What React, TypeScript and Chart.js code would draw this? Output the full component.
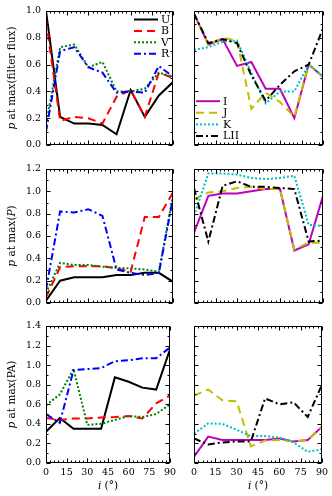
import React, { useEffect, useRef } from 'react';
import { Chart, registerables } from 'chart.js';
Chart.register(...registerables);

// ---------------- data ----------------
const inclination = [0, 10, 20, 30, 40, 50, 60, 70, 80, 90];
const xTickStep = 15;

// Row 1: p at max(filter flux)
const fluxU = [1.0, 0.21, 0.16, 0.16, 0.15, 0.08, 0.41, 0.21, 0.37, 0.47];
const fluxB = [0.93, 0.18, 0.21, 0.2, 0.16, 0.36, 0.41, 0.21, 0.54, 0.5];
const fluxV = [0.15, 0.73, 0.75, 0.58, 0.62, 0.4, 0.4, 0.42, 0.54, 0.51];
const fluxR = [0.1, 0.7, 0.73, 0.58, 0.54, 0.39, 0.4, 0.39, 0.59, 0.51];
const fluxI = [0.98, 0.75, 0.79, 0.59, 0.62, 0.42, 0.42, 0.2, 0.6, 0.51];
const fluxJ = [0.98, 0.75, 0.8, 0.78, 0.27, 0.39, 0.32, 0.21, 0.6, 0.51];
const fluxK = [0.71, 0.73, 0.77, 0.78, 0.54, 0.31, 0.4, 0.4, 0.6, 0.51];
const fluxLII = [0.98, 0.76, 0.79, 0.76, 0.52, 0.33, 0.45, 0.55, 0.6, 0.87];

// Row 2: p at max(P)
const polU = [0.02, 0.2, 0.23, 0.23, 0.23, 0.25, 0.25, 0.27, 0.27, 0.19];
const polB = [0.05, 0.32, 0.33, 0.33, 0.33, 0.31, 0.28, 0.77, 0.77, 0.99];
const polV = [0.09, 0.36, 0.34, 0.34, 0.325, 0.315, 0.31, 0.3, 0.28, 0.96];
const polR = [0.12, 0.82, 0.81, 0.84, 0.78, 0.3, 0.27, 0.25, 0.27, 0.94];
const polI = [0.63, 0.96, 0.98, 0.98, 1.0, 1.02, 1.02, 0.47, 0.525, 0.96];
const polJ = [0.93, 0.99, 1.0, 1.03, 1.04, 1.02, 1.02, 0.48, 0.54, 0.54];
const polK = [0.78, 1.16, 1.16, 1.15, 1.12, 1.11, 1.12, 1.14, 0.7, 0.69];
const polLII = [1.03, 0.55, 1.05, 1.09, 1.04, 1.04, 1.03, 1.02, 0.55, 0.56];

// Row 3: p at max(PA)
const paU = [0.32, 0.46, 0.35, 0.35, 0.35, 0.875, 0.83, 0.77, 0.75, 1.16];
const paB = [0.46, 0.44, 0.455, 0.455, 0.465, 0.47, 0.48, 0.455, 0.61, 0.69];
const paV = [0.59, 0.7, 0.96, 0.39, 0.4, 0.44, 0.48, 0.47, 0.5, 0.6];
const paR = [0.5, 0.41, 0.95, 0.96, 0.97, 1.04, 1.05, 1.07, 1.07, 1.18];
const paI = [0.065, 0.27, 0.235, 0.235, 0.235, 0.235, 0.25, 0.22, 0.235, 0.37];
const paJ = [0.69, 0.75, 0.64, 0.63, 0.17, 0.23, 0.235, 0.22, 0.235, 0.37];
const paK = [0.3, 0.405, 0.4, 0.34, 0.275, 0.275, 0.26, 0.21, 0.115, 0.14];
const paLII = [0.25, 0.19, 0.21, 0.22, 0.22, 0.66, 0.6, 0.62, 0.47, 0.8];

// ---------------- styles ----------------
const FONT = '"DejaVu Serif", serif';
const TICK_SIZE = 9.5;
const LABEL_SIZE = 9.5;
const LEGEND_SIZE = 11;

const DASHED = [8, 5];
const DOTTED = [2, 2];
const DASHDOT = [7, 3, 2, 3];

const bandStyle: Record<string, { color: string; dash: number[] }> = {
  U: { color: '#000000', dash: [] },
  B: { color: '#ff0000', dash: DASHED },
  V: { color: '#008000', dash: DOTTED },
  R: { color: '#0000ff', dash: DASHDOT },
  I: { color: '#bf00bf', dash: [] },
  J: { color: '#bfbf00', dash: DASHED },
  K: { color: '#00bfbf', dash: DOTTED },
  LII: { color: '#000000', dash: DASHDOT },
};

type Part = { t: string; italic?: boolean };

// ---------------- plugin ----------------
const decorPlugin = {
  id: 'decor',
  afterDraw(chart: any, _args: any, opts: any) {
    const { ctx, chartArea: a, scales } = chart;
    const xs = scales.x;
    const ys = scales.y;
    ctx.save();
    ctx.strokeStyle = '#000';
    ctx.lineWidth = 1;
    ctx.setLineDash([]);
    const seg = (x1: number, y1: number, x2: number, y2: number) => {
      ctx.beginPath();
      ctx.moveTo(x1, y1);
      ctx.lineTo(x2, y2);
      ctx.stroke();
    };
    const L = Math.round(a.left) + 0.5;
    const R = Math.round(a.right) - 0.5;
    const T = Math.round(a.top) + 0.5;
    const B = Math.round(a.bottom) - 0.5;
    // x ticks
    for (let v = xs.min; v <= xs.max + 1e-9; v += opts.xMinor) {
      const major = Math.abs(v / opts.xMajor - Math.round(v / opts.xMajor)) < 1e-6;
      const len = major ? 4 : 2;
      const px = Math.round(xs.getPixelForValue(v)) + 0.5;
      seg(px, B, px, B - len);
      seg(px, T, px, T + len);
    }
    // y ticks
    for (let i = 0; ; i++) {
      const v = ys.min + i * opts.yMinor;
      if (v > ys.max + 1e-9) break;
      const major = Math.abs(v / opts.yMajor - Math.round(v / opts.yMajor)) < 1e-6;
      const len = major ? 4 : 2;
      const py = Math.round(ys.getPixelForValue(v)) + 0.5;
      seg(L, py, L + len, py);
      seg(R, py, R - len, py);
    }
    // frame
    ctx.strokeRect(L, T, R - L, B - T);

    const drawParts = (parts: Part[], size: number, cx: number, cy: number, rotate: boolean) => {
      ctx.save();
      ctx.translate(cx, cy);
      if (rotate) ctx.rotate(-Math.PI / 2);
      ctx.fillStyle = '#000';
      ctx.textBaseline = 'middle';
      ctx.textAlign = 'left';
      let total = 0;
      const widths = parts.map((p) => {
        ctx.font = `${p.italic ? 'italic ' : ''}${size}px ${FONT}`;
        const w = ctx.measureText(p.t).width;
        total += w;
        return w;
      });
      let x = -total / 2;
      parts.forEach((p, i) => {
        ctx.font = `${p.italic ? 'italic ' : ''}${size}px ${FONT}`;
        ctx.fillText(p.t, x, 0);
        x += widths[i];
      });
      ctx.restore();
    };

    if (opts.yTitle) {
      drawParts(opts.yTitle, LABEL_SIZE + 1, opts.yTitleX, (a.top + a.bottom) / 2, true);
    }
    if (opts.xTitle) {
      drawParts(opts.xTitle, LABEL_SIZE + 1, (a.left + a.right) / 2, opts.xTitleY, false);
    }

    // legend
    if (opts.legend) {
      const lg = opts.legend;
      const ds = chart.data.datasets;
      const x0 = lg.corner === 'upperRight' ? a.right - lg.dx : a.left + lg.dx;
      const lineLen = 24;
      const n = ds.length;
      ds.forEach((d: any, i: number) => {
        const y =
          lg.corner === 'upperRight'
            ? a.top + lg.dy + i * lg.gap
            : a.bottom - lg.dy - (n - 1 - i) * lg.gap;
        ctx.save();
        ctx.strokeStyle = d.borderColor;
        ctx.lineWidth = d.borderWidth;
        ctx.setLineDash(d.borderDash || []);
        seg(x0, y, x0 + lineLen, y);
        ctx.restore();
        ctx.fillStyle = '#000';
        ctx.font = `${LEGEND_SIZE}px ${FONT}`;
        ctx.textBaseline = 'middle';
        ctx.textAlign = 'left';
        ctx.fillText(d.label, x0 + lineLen + 3, y + 0.5);
      });
    }
    ctx.restore();
  },
};

// ---------------- panels ----------------
type PanelDef = {
  left: number;
  top: number;
  width: number;
  height: number;
  bands: string[];
  series: number[][];
  yMax: number;
  showY: boolean;
  showX: boolean;
  pad: { left: number; right: number; top: number; bottom: number };
  yTitle?: Part[];
  xTitle?: Part[];
  legend?: any;
};

function buildConfig(p: PanelDef): any {
  const n = p.bands.length;
  const datasets = p.bands.map((b, i) => ({
    label: b,
    data: inclination.map((x, k) => ({ x, y: p.series[i][k] })),
    borderColor: bandStyle[b].color,
    borderDash: bandStyle[b].dash,
    borderWidth: 2,
    pointRadius: 0,
    tension: 0,
    fill: false,
    order: n - i,
  }));
  const tickFont = { family: FONT, size: TICK_SIZE };
  return {
    type: 'line',
    data: { datasets },
    plugins: [decorPlugin],
    options: {
      responsive: false,
      animation: false,
      events: [],
      layout: { padding: p.pad },
      plugins: {
        legend: { display: false },
        tooltip: { enabled: false },
        decor: {
          xMinor: 3,
          xMajor: xTickStep,
          yMinor: 0.1,
          yMajor: 0.2,
          yTitle: p.yTitle,
          yTitleX: 12.5,
          xTitle: p.xTitle,
          xTitleY: 171,
          legend: p.legend,
        },
      },
      scales: {
        x: {
          type: 'linear',
          min: 0,
          max: 90,
          display: p.showX,
          grid: { display: false, drawTicks: false },
          border: { display: false },
          ticks: {
            stepSize: xTickStep,
            autoSkip: false,
            maxRotation: 0,
            color: '#000',
            font: tickFont,
            padding: 4,
          },
          ...(p.showX ? { afterFit: (s: any) => { s.height = 33; } } : {}),
        },
        y: {
          type: 'linear',
          min: 0,
          max: p.yMax,
          display: p.showY,
          grid: { display: false, drawTicks: false },
          border: { display: false },
          ticks: {
            stepSize: 0.2,
            color: '#000',
            font: tickFont,
            padding: 5,
            callback: (v: number) => v.toFixed(1),
          },
          ...(p.showY ? { afterFit: (s: any) => { s.width = 46; } } : {}),
        },
      },
    },
  };
}

function Panel({ def }: { def: PanelDef }) {
  const ref = useRef<HTMLCanvasElement>(null);
  useEffect(() => {
    const chart = new Chart(ref.current as HTMLCanvasElement, buildConfig(def));
    return () => chart.destroy();
  }, []);
  return (
    <canvas
      ref={ref}
      width={def.width}
      height={def.height}
      style={{ position: 'absolute', left: def.left, top: def.top, width: def.width, height: def.height }}
    />
  );
}

const leftBands = ['U', 'B', 'V', 'R'];
const rightBands = ['I', 'J', 'K', 'LII'];

const rows = [
  {
    top: 0,
    height: 157,
    padTop: 11,
    padBottom: 12,
    yMax: 1.0,
    left: [fluxU, fluxB, fluxV, fluxR],
    right: [fluxI, fluxJ, fluxK, fluxLII],
    yTitle: [{ t: 'p', italic: true }, { t: ' at max(filter flux)' }] as Part[],
  },
  {
    top: 157,
    height: 158,
    padTop: 12,
    padBottom: 12,
    yMax: 1.2,
    left: [polU, polB, polV, polR],
    right: [polI, polJ, polK, polLII],
    yTitle: [{ t: 'p', italic: true }, { t: ' at max(' }, { t: 'P', italic: true }, { t: ')' }] as Part[],
  },
  {
    top: 315,
    height: 181,
    padTop: 11,
    padBottom: 0,
    yMax: 1.4,
    left: [paU, paB, paV, paR],
    right: [paI, paJ, paK, paLII],
    yTitle: [{ t: 'p', italic: true }, { t: ' at max(PA)' }] as Part[],
  },
];

const xTitle: Part[] = [{ t: 'i', italic: true }, { t: ' (°)' }];

const panels: PanelDef[] = [];
rows.forEach((r, ri) => {
  const bottomRow = ri === rows.length - 1;
  panels.push({
    left: 0,
    top: r.top,
    width: 180,
    height: r.height,
    bands: leftBands,
    series: r.left,
    yMax: r.yMax,
    showY: true,
    showX: bottomRow,
    pad: { left: 0, right: 7, top: r.padTop, bottom: r.padBottom },
    yTitle: r.yTitle,
    xTitle: bottomRow ? xTitle : undefined,
    legend: ri === 0 ? { corner: 'upperRight', dx: 39, dy: 8.5, gap: 11.4 } : undefined,
  });
  panels.push({
    left: 180,
    top: r.top,
    width: 152,
    height: r.height,
    bands: rightBands,
    series: r.right,
    yMax: r.yMax,
    showY: false,
    showX: bottomRow,
    pad: { left: 14, right: 9, top: r.padTop, bottom: r.padBottom },
    xTitle: bottomRow ? xTitle : undefined,
    legend: ri === 0 ? { corner: 'lowerLeft', dx: 2, dy: 9, gap: 11.6 } : undefined,
  });
});

export default function App() {
  return (
    <div style={{ position: 'fixed', left: 0, top: 0, width: 332, height: 496, background: '#fff' }}>
      {panels.map((p, i) => (
        <Panel key={i} def={p} />
      ))}
    </div>
  );
}
